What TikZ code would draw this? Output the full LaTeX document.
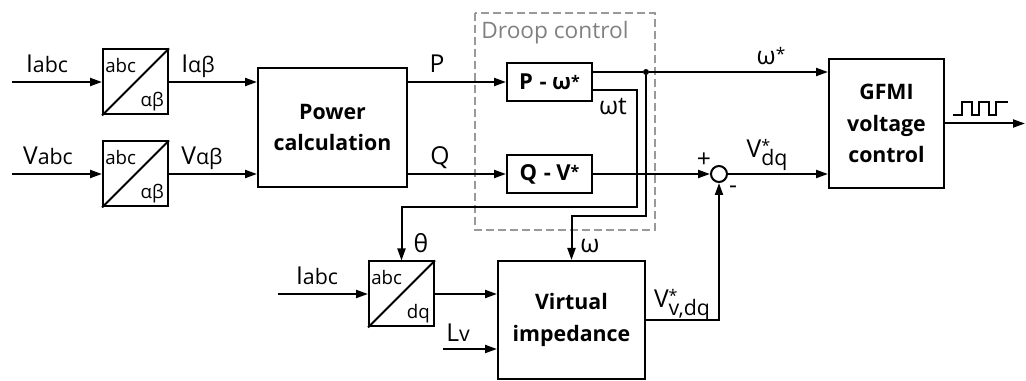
\documentclass[tikz,border=0pt]{standalone}
\usepackage{fontspec}
\setmainfont{Open Sans}
\usetikzlibrary{arrows.meta}
\newcommand\lblsub[2]{#1{\fontsize{16}{16}\selectfont #2}}
\newcommand\lblss[2]{#1\rlap{\raisebox{5pt}{\fontsize{12}{12}\selectfont *}}\raisebox{-6pt}{\fontsize{16}{16}\selectfont #2}}
\newcommand\starup{\raisebox{3pt}{\fontsize{13}{13}\selectfont *}}
\newcommand\boxstar{\raisebox{2pt}{\fontsize{12}{12}\selectfont *}}
\tikzset{
  wire/.style={line width=1.5pt},
  arr/.style={wire, -{Triangle[length=9pt,width=6pt]}},
  blk/.style={draw, line width=1.5pt, inner sep=0pt, align=center,
    font=\fontsize{16}{23.5}\selectfont\bfseries},
  smallblk/.style={draw, line width=1.5pt, inner sep=0pt,
    minimum width=63.75pt, minimum height=28.5pt,
    font=\fontsize{16.5}{16.5}\selectfont\bfseries},
  conv/.style={draw, line width=1.5pt, minimum size=48.75pt, inner sep=0pt},
  convtxt/.style={inner sep=0pt, font=\fontsize{14}{14}\selectfont},
  lab/.style={inner sep=0pt, anchor=base, font=\fontsize{18.5}{18.5}\selectfont},
  sumnode/.style={draw, circle, line width=1.5pt, minimum size=12pt, inner sep=0pt},
  jdot/.style={circle, fill, minimum size=4.5pt, inner sep=0pt},
}
\begin{document}
\begin{tikzpicture}[x=0.75pt,y=-0.75pt]
\useasboundingbox (0,0) rectangle (1026,381);

% droop control frame
\draw[black!40, line width=1pt, dash pattern=on 6pt off 3pt] (475,13) rectangle (655,230);
\node[inner sep=0pt, text=black!50, font=\fontsize{17}{17}\selectfont] (droopt) at (555,33) {Droop control};

% conversion blocks
\node[conv] (c1) at (135.5,82) {};
\node[conv] (c2) at (135.5,174) {};
\node[conv] (c3) at (401.5,294) {};
\foreach \c/\lo in {c1/αβ, c2/αβ, c3/dq}{
  \draw[wire] (\c.south west) -- (\c.north east);
  \node[convtxt, anchor=base west] (\c-a) at ([shift={(3,24)}]\c.north west) {abc};
  \node[convtxt, anchor=base east] (\c-b) at ([shift={(-5,-9)}]\c.south east) {\lo};
}

% main blocks
\node[blk, minimum width=111.75pt, minimum height=89.25pt] (pc) at (332.5,127.5) {Power\\calculation};
\node[smallblk] (pw) at (549.5,82) {P\hspace{5pt}-\hspace{4pt}ω\boxstar};
\node[smallblk] (qv) at (549.5,174) {Q\hspace{5pt}-\hspace{4pt}V\boxstar};
\node[sumnode] (sum) at (719,174) {};
\node[blk, minimum width=86.25pt, minimum height=96.75pt] (gfmi) at (886.5,123.5) {GFMI\\voltage\\control};
\node[blk, minimum width=110.25pt, minimum height=88.5pt] (vi) at (571.5,320) {Virtual\\impedance};
\node[jdot] (jn) at (646,72) {};

% free ends and bends
\coordinate (iin) at (12,82);
\coordinate (vin) at (12,174);
\coordinate (iin3) at (278,294);
\coordinate (lvin) at (443,349);
\coordinate (wtc) at (637,90);
\coordinate (wtb) at (637,207);
\coordinate (wb) at (646,216);
\coordinate (gout) at (1025,123.5);

% connectors
\draw[arr] (iin) -- (c1.west);
\draw[arr] (vin) -- (c2.west);
\draw[arr] (c1.east) -- (c1.east -| pc.west);
\draw[arr] (c2.east) -- (c2.east -| pc.west);
\draw[arr] (pc.east |- pw.west) -- (pw.west);
\draw[arr] (pc.east |- qv.west) -- (qv.west);
\draw[wire] (pw.east |- jn) -- (jn);
\draw[arr] (jn) -- (jn -| gfmi.west);
\draw[arr] (pw.east |- wtc) -| (wtb) -| (c3.north);
\draw[arr] (jn) -- (wb) -| (vi.north);
\draw[arr] (qv.east) -- (sum.west);
\draw[arr] (sum.east) -- (sum.east -| gfmi.west);
\draw[arr] (vi.east) -| (sum.south);
\draw[arr] (iin3) -- (c3.west);
\draw[arr] (c3.east) -- (c3.east -| vi.west);
\draw[arr] (lvin) -- (lvin -| vi.west);
\draw[arr] (gfmi.east) -- (gout);

% pulse symbol
\draw[line width=1.1pt] (953,115) -- (962,115) -- (962,102) -- (972,102) -- (972,115)
  -- (979,115) -- (979,102) -- (989,102) -- (989,115) -- (996,115) -- (996,102) -- (1008,102);

% labels
\node[lab] (l1) at (47,73) {\lblsub{I}{abc}};
\node[lab] (l2) at (198,73) {\lblsub{I}{αβ}};
\node[lab] (l3) at (48,165) {\lblsub{V}{abc}};
\node[lab] (l4) at (202,165) {\lblsub{V}{αβ}};
\node[lab] (lp) at (437,73) {P};
\node[lab] (lq) at (440,165) {Q};
\node[lab] (lw) at (771,65) {ω\starup};
\node[lab] (lwt) at (613,115) {ωt};
\node[lab] (lvdq) at (767,158) {\lblss{V}{dq}};
\node[lab] (lplus) at (704,168) {+};
\node[lab] (lminus) at (733,194) {-};
\node[lab] (lth) at (421,253) {θ};
\node[lab] (lom) at (590,253) {ω};
\node[lab] (l5) at (317,285) {\lblsub{I}{abc}};
\node[lab] (llv) at (458,342) {\lblsub{L}{v}};
\node[lab] (lvv) at (682,308) {\lblss{V}{v,dq}};
\end{tikzpicture}
\end{document}
